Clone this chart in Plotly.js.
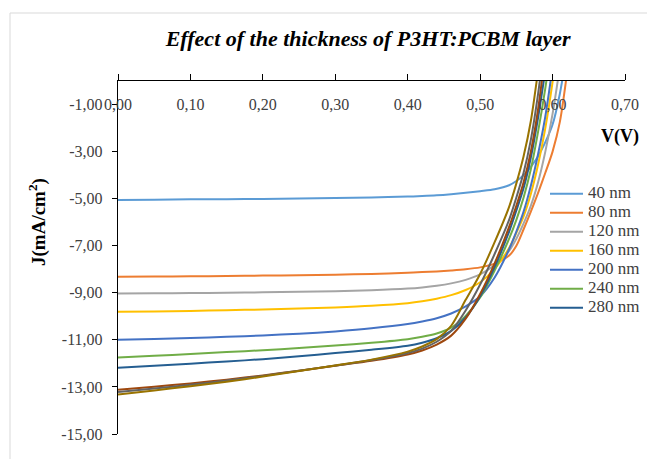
<!DOCTYPE html>
<html>
<head>
<meta charset="utf-8">
<script src="https://cdn.plot.ly/plotly-3.0.1.min.js"></script>
<style>
  html, body { margin: 0; padding: 0; background: #ffffff; }
  #chart { width: 647px; height: 459px; }
</style>
</head>
<body>
<div id="chart"></div>
<script>
// J–V curves of the cell for different P3HT:PCBM layer thicknesses
const voltage = [0, 0.05, 0.10, 0.15, 0.20, 0.25, 0.30, 0.35, 0.40, 0.42, 0.44, 0.46, 0.48,
                 0.50, 0.52, 0.54, 0.55, 0.56, 0.57, 0.58, 0.59, 0.60, 0.61, 0.62, 0.63];

const thicknessLabels = ['40 nm', '80 nm', '120 nm', '160 nm', '200 nm', '240 nm', '280 nm',
                         '320 nm', '360 nm', '400 nm'];

const j40 = [-5.06, -5.05, -5.03, -5.02, -5.01, -4.99, -4.97, -4.95, -4.91, -4.89, -4.86, -4.81, -4.75,
             -4.68, -4.60, -4.43, -4.25, -4.00, -3.65, -3.20, -2.60, -1.85, -0.55, 1.30, null];
const j80 = [-8.32, -8.31, -8.30, -8.29, -8.27, -8.25, -8.23, -8.20, -8.15, -8.12, -8.09, -8.05, -8.00,
             -7.92, -7.76, -7.42, -7.00, -6.30, -5.55, -4.75, -3.90, -3.00, -1.75, 0.35, null];
const j120 = [-9.03, -9.02, -9.01, -9.00, -8.98, -8.96, -8.93, -8.89, -8.82, -8.77, -8.70, -8.60, -8.45,
              -8.22, -7.82, -7.22, -6.70, -6.05, -5.30, -4.30, -3.00, -1.40, 0.60, null, null];
const j160 = [-9.81, -9.79, -9.77, -9.74, -9.71, -9.67, -9.62, -9.55, -9.44, -9.36, -9.25, -9.10, -8.88,
              -8.55, -7.98, -7.10, -6.45, -5.75, -4.80, -3.55, -2.00, -0.05, 2.30, null, null];
const j200 = [-10.99, -10.96, -10.92, -10.87, -10.81, -10.74, -10.64, -10.51, -10.33, -10.22, -10.08, -9.88, -9.58,
              -9.15, -8.35, -7.15, -6.40, -5.55, -4.45, -3.10, -1.50, 0.60, null, null, null];
const j240 = [-11.75, -11.68, -11.60, -11.52, -11.44, -11.35, -11.24, -11.12, -10.97, -10.87, -10.73, -10.48, -9.98,
              -9.20, -8.05, -6.70, -5.90, -4.95, -3.75, -2.15, -0.30, 1.90, null, null, null];
const j280 = [-12.18, -12.10, -12.01, -11.92, -11.82, -11.70, -11.56, -11.42, -11.25, -11.12, -10.93, -10.62, -10.05,
              -9.15, -7.90, -6.40, -5.50, -4.55, -3.25, -1.55, 0.45, null, null, null, null];
const j320 = [-13.12, -12.99, -12.85, -12.69, -12.51, -12.31, -12.10, -11.89, -11.62, -11.45, -11.20, -10.82, -10.10,
              -9.05, -7.75, -6.20, -5.30, -4.30, -3.00, -1.20, 1.20, null, null, null, null];
const j360 = [-13.22, -13.07, -12.91, -12.73, -12.53, -12.31, -12.09, -11.86, -11.56, -11.37, -11.08, -10.62, -9.75,
              -8.65, -7.35, -5.90, -4.95, -3.90, -2.50, -0.55, 1.90, null, null, null, null];
const j400 = [-13.32, -13.15, -12.97, -12.78, -12.56, -12.32, -12.09, -11.84, -11.50, -11.28, -10.97, -10.40, -9.30,
              -8.20, -6.85, -5.35, -4.35, -3.20, -1.70, 0.45, null, null, null, null, null];

const currentSeries = [j40, j80, j120, j160, j200, j240, j280, j320, j360, j400];
const seriesColors = ['#5B9BD5', '#ED7D31', '#A5A5A5', '#FFC000', '#4472C4', '#70AD47',
                      '#255E91', '#9E480E', '#636363', '#997300'];
const legendCount = 7;

const xTickVals = [0, 0.1, 0.2, 0.3, 0.4, 0.5, 0.6, 0.7];
const yTickVals = [-15, -13, -11, -9, -7, -5, -3, -1];
const commaText = v => v.toFixed(2).replace('.', ',');

const serif = '"Liberation Serif", "Times New Roman", serif';
const lastIndex = currentSeries.length - 1;

// the topmost curve sits on the overlaid x axis that carries the tick labels
const traces = currentSeries.map((j, i) => ({
  type: 'scatter',
  mode: 'lines',
  x: voltage,
  y: j,
  xaxis: i === lastIndex ? 'x2' : 'x',
  name: '<span style="font-size:17px">' + thicknessLabels[i] + '</span>',
  showlegend: i < legendCount,
  line: { color: seriesColors[i], width: 2, shape: 'spline', smoothing: 0.8 },
  connectgaps: false,
  hoverinfo: 'x+y'
}));

const axisFont = { family: serif, size: 16, color: '#404040' };

const layout = {
  width: 647,
  height: 459,
  paper_bgcolor: '#ffffff',
  plot_bgcolor: '#ffffff',
  margin: { l: 118, r: 22, t: 81, b: 25, pad: 0, autoexpand: false },
  title: {
    text: '<b><i>Effect of the thickness of P3HT:PCBM layer</i></b>',
    font: { family: serif, size: 22, color: '#000000' },
    x: 0.569, xanchor: 'center',
    y: 0.917, yanchor: 'middle'
  },
  xaxis: {
    range: [0, 0.7],
    side: 'top',
    tickvals: xTickVals,
    showticklabels: false,
    ticks: 'outside',
    ticklen: 6,
    tickwidth: 1,
    tickcolor: '#000000',
    showline: true,
    linecolor: '#000000',
    linewidth: 1.2,
    showgrid: false,
    zeroline: false,
    fixedrange: true
  },
  xaxis2: {
    range: [0, 0.7],
    matches: 'x',
    overlaying: 'x',
    anchor: 'free',
    position: 0.909,
    side: 'top',
    tickvals: xTickVals,
    ticktext: xTickVals.map(commaText),
    ticks: '',
    tickfont: axisFont,
    showline: false,
    showgrid: false,
    zeroline: false,
    fixedrange: true
  },
  yaxis: {
    range: [-15, 0],
    tickvals: yTickVals,
    ticktext: yTickVals.map(commaText),
    ticks: 'outside',
    ticklen: 5,
    tickwidth: 1,
    tickcolor: '#000000',
    ticklabelstandoff: 6,
    tickfont: axisFont,
    showline: true,
    linecolor: '#000000',
    linewidth: 1.2,
    showgrid: false,
    zeroline: false,
    fixedrange: true
  },
  legend: {
    x: 0.8422, xanchor: 'left',
    y: 0.722, yanchor: 'top',
    bgcolor: 'rgba(0,0,0,0)',
    borderwidth: 0,
    font: { family: serif, size: 12, color: '#404040' },
    tracegroupgap: 0,
    itemwidth: 33
  },
  annotations: [
    {
      xref: 'paper', yref: 'paper',
      x: (620 - 118) / 507, y: 1 - (136 - 81) / 353,
      xanchor: 'center', yanchor: 'middle',
      text: '<b>V(V)</b>',
      showarrow: false,
      font: { family: serif, size: 18, color: '#000000' }
    },
    {
      xref: 'paper', yref: 'paper',
      x: (37 - 118) / 507, y: 1 - (222 - 81) / 353,
      xanchor: 'center', yanchor: 'middle',
      text: '<b>J(mA/cm<sup>2</sup>)</b>',
      textangle: -90,
      showarrow: false,
      font: { family: serif, size: 19, color: '#000000' }
    }
  ],
  shapes: [
    {
      type: 'rect', xref: 'paper', yref: 'paper',
      x0: (10 - 118) / 507, x1: (700 - 118) / 507,
      y0: 1 - (520 - 81) / 353, y1: 1 - (13 - 81) / 353,
      line: { color: '#d9d9d9', width: 1 },
      fillcolor: 'rgba(0,0,0,0)',
      layer: 'below'
    }
  ]
};

Plotly.newPlot('chart', traces, layout, { displayModeBar: false, staticPlot: true });
</script>
</body>
</html>
